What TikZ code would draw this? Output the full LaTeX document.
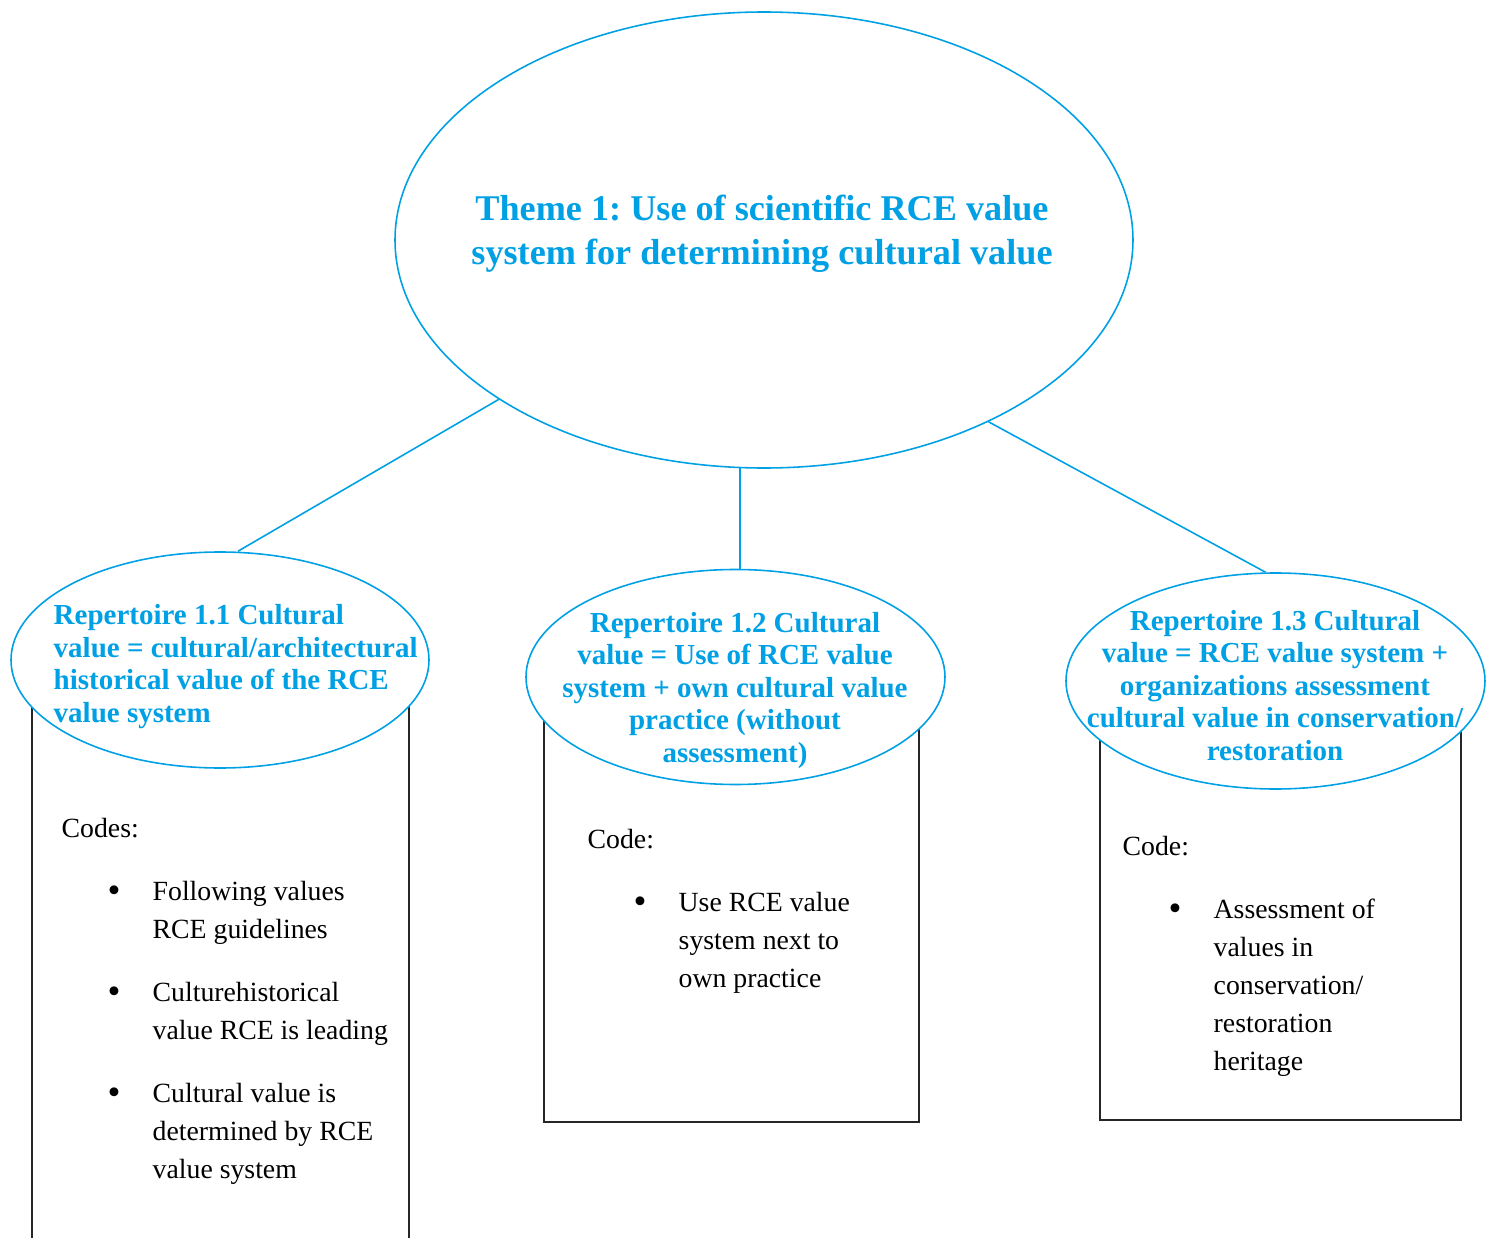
\documentclass[tikz,border=0pt]{standalone}
\usepackage{fontspec}
\setmainfont{Liberation Serif}
\usetikzlibrary{shapes.geometric}
\frenchspacing
\definecolor{themeblue}{RGB}{0,160,228}
\tikzset{
  themeell/.style={ellipse, draw=themeblue, line width=0.45pt, fill=white, inner sep=0pt},
  themetext/.style={text=themeblue, font=\fontsize{10.3pt}{0.44cm}\selectfont\bfseries, inner sep=0pt},
  reptext/.style={text=themeblue, font=\fontsize{8.25pt}{0.325cm}\selectfont\bfseries, inner sep=0pt},
  codebox/.style={draw=black!85, line width=0.55pt, inner sep=0pt, anchor=north west},
  codetext/.style={font=\fontsize{7.9pt}{0.38cm}\selectfont, align=left, inner sep=0pt, anchor=base west},
  link/.style={draw=themeblue, line width=0.45pt}
}
\newcommand{\bul}{\hspace*{0.46cm}\makebox[0.45cm][l]{\raisebox{-0.7pt}{\fontsize{10.5pt}{0pt}\selectfont\textbullet}}}
\newcommand{\ind}{\hspace*{0.91cm}}

\begin{document}
\begin{tikzpicture}
	\clip (0,0) rectangle (14.94,12.37);
	% boxes with the codes
	\node[codebox, minimum width=3.77cm, minimum height=5.8cm] (box1) at (0.31,5.37) {};
	\node[codebox, minimum width=3.75cm, minimum height=4.21cm] (box2) at (5.43,5.37) {};
	\node[codebox, minimum width=3.61cm, minimum height=4.19cm] (box3) at (10.99,5.37) {};
	% (base = last line)
	\node[codetext] (codes1) at (0.61,0.59) {Codes:\\[0.25cm]
		\bul Following values\\ \ind RCE guidelines\\[0.25cm]
		\bul Culturehistorical\\ \ind value RCE is leading\\[0.25cm]
		\bul Cultural value is\\ \ind determined by RCE\\ \ind value system};
	\node[codetext] (codes2) at (5.87,2.50) {Code:\\[0.25cm]
		\bul Use RCE value\\ \ind system next to\\ \ind own practice};
	\node[codetext] (codes3) at (11.22,1.67) {Code:\\[0.25cm]
		\bul Assessment of\\ \ind values in\\ \ind conservation/\\ \ind restoration\\ \ind heritage};
	% repertoires
	\node[themeell, minimum width=4.18cm, minimum height=2.16cm] (rep1) at (2.20,5.77) {};
	\node[themeell, minimum width=4.19cm, minimum height=2.15cm] (rep2) at (7.355,5.60) {};
	\node[themeell, minimum width=4.19cm, minimum height=2.16cm] (rep3) at (12.755,5.56) {};
	\node[reptext, align=left, anchor=base west] (rep1lbl) at (0.53,5.15) {Repertoire 1.1 Cultural\\value = cultural/architectural\\historical value of the RCE\\value system};
	\node[reptext, align=center, anchor=base] (rep2lbl) at (7.35,4.75) {Repertoire 1.2 Cultural\\value = Use of RCE value\\system + own cultural value\\practice (without\\assessment)};
	\node[reptext, align=center, anchor=base] (rep3lbl) at (12.75,4.77) {Repertoire 1.3 Cultural\\value = RCE value system +\\organizations assessment\\cultural value in conservation/\\restoration};
	% theme
	\node[themeell, minimum width=7.38cm, minimum height=4.56cm] (theme) at (7.64,9.97) {};
	\node[themetext, align=center, anchor=base] (themelbl) at (7.62,9.725) {Theme 1: Use of scientific RCE value\\system for determining cultural value};
	\draw[link] (theme.211) -- ([xshift=0.18cm]rep1.north);
	\draw[link] (theme.264) -- (theme.264 |- rep2.north);
	\draw[link] (theme.321) -- ([xshift=-0.10cm]rep3.north);
\end{tikzpicture}
\end{document}
